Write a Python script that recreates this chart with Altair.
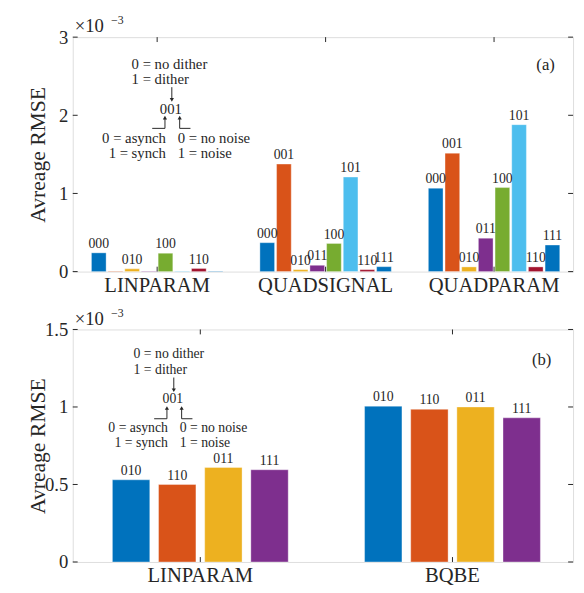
import altair as alt
import pandas as pd

FONT = "Liberation Serif"
INK = "#262626"

# ---------------- data ----------------
groups_a = ["LINPARAM", "QUADSIGNAL", "QUADPARAM"]
codes_a = ["000", "001", "010", "011", "100", "101", "110", "111"]
lin_a = [0.24, 0.006, 0.035, 0.006, 0.235, 0.006, 0.04, 0.006]
quadsig_a = [0.37, 1.376, 0.025, 0.08, 0.36, 1.21, 0.025, 0.063]
quadpar_a = [1.067, 1.515, 0.06, 0.427, 1.075, 1.88, 0.06, 0.34]
labeled_lin_a = [True, False, True, False, True, False, True, False]
colors_a = ["#0072BD", "#D95319", "#EDB120", "#7E2F8E", "#77AC30", "#4DBEEE", "#A2142F", "#0072BD"]
yticks_a = [0, 1, 2, 3]

groups_b = ["LINPARAM", "BQBE"]
codes_b = ["010", "110", "011", "111"]
lin_b = [0.53, 0.50, 0.61, 0.595]
bqbe_b = [1.005, 0.985, 1.0, 0.93]
colors_b = ["#0072BD", "#D95319", "#EDB120", "#7E2F8E"]
yticks_b = [0, 0.5, 1, 1.5]

W, HA, HB = 510, 239, 237

rows_a = []
for g, vals in zip(groups_a, [lin_a, quadsig_a, quadpar_a]):
    for i, (c, v) in enumerate(zip(codes_a, vals)):
        show = labeled_lin_a[i] if g == "LINPARAM" else True
        rows_a.append({"grp": g, "code": c, "val": v, "lab": c if show else ""})
df_a = pd.DataFrame(rows_a)

rows_b = []
for g, vals in zip(groups_b, [lin_b, bqbe_b]):
    for c, v in zip(codes_b, vals):
        rows_b.append({"grpb": g, "codeb": c, "valb": v, "lab": c})
df_b = pd.DataFrame(rows_b)

one = pd.DataFrame({"k": [0]})


def txt(s, x, y, size, align="left", baseline="middle"):
    return alt.Chart(one).mark_text(text=s, fontSize=size, align=align, baseline=baseline,
                                    font=FONT, color=INK).encode(x=alt.value(x), y=alt.value(y))


def seg(x1, y1, x2, y2):
    return alt.Chart(one).mark_rule(color=INK, strokeWidth=1).encode(
        x=alt.value(x1), x2=alt.value(x2), y=alt.value(y1), y2=alt.value(y2))


def head(x, y, shape):
    return alt.Chart(one).mark_point(shape=shape, filled=True, size=18, color=INK, opacity=1).encode(
        x=alt.value(x), y=alt.value(y))


def annotation(dx, dy, size):
    # legend-like explanation of the three-digit code
    return [
        txt("0 = no dither", 60 + dx, 27 + dy, size),
        txt("1 = dither", 60 + dx, 43 + dy, size),
        seg(101 + dx, 51 + dy, 101 + dx, 63 + dy),
        head(101 + dx, 64 + dy, "triangle-down"),
        txt("001", 100 + dx, 73 + dy, size, align="center"),
        seg(81 + dx, 93 + dy, 94 + dx, 93 + dy),
        seg(94 + dx, 93 + dy, 94 + dx, 83 + dy),
        head(94 + dx, 82 + dy, "triangle-up"),
        seg(109 + dx, 93 + dy, 120 + dx, 93 + dy),
        seg(109 + dx, 93 + dy, 109 + dx, 83 + dy),
        head(109 + dx, 82 + dy, "triangle-up"),
        txt("0 = asynch", 95 + dx, 103 + dy, size, align="right"),
        txt("1 = synch", 95 + dx, 118 + dy, size, align="right"),
        txt("0 = no noise", 107 + dx, 103 + dy, size),
        txt("1 = noise", 107 + dx, 118 + dy, size),
    ]


def panel(df, gfield, cfield, vfield, groups, codes, colors, yticks, ymax, h,
          xpi, xpo, xal, opi, opo, tag, tagx, tagy, ann):
    yscale = alt.Scale(domain=[0, ymax], nice=False, zero=True)
    xscale = alt.Scale(paddingInner=xpi, paddingOuter=xpo, align=xal)
    xaxis = alt.Axis(title=None, labelAngle=0, tickSize=0, domain=False, labelFontSize=21,
                     labelPadding=3, labelColor=INK, labelFont=FONT)
    yaxis = alt.Axis(values=yticks, format="~g", tickSize=0, domain=False, grid=False, labelFontSize=19,
                     labelPadding=5, labelColor=INK, labelFont=FONT, title="Avreage RMSE",
                     titleFontSize=22, titleFontWeight="normal", titleColor=INK, titleFont=FONT,
                     titleX=-24, titleY=h / 2)
    X = alt.X(f"{gfield}:N", sort=groups, scale=xscale, axis=xaxis)
    XO = alt.XOffset(f"{cfield}:N", sort=codes,
                     scale=alt.Scale(domain=codes, paddingInner=opi, paddingOuter=opo))
    bars = alt.Chart(df).mark_bar(stroke="white", strokeWidth=0.6, strokeOpacity=0.6).encode(
        x=X, xOffset=XO,
        y=alt.Y(f"{vfield}:Q", scale=yscale, axis=yaxis),
        color=alt.Color(f"{cfield}:N", scale=alt.Scale(domain=codes, range=colors), legend=None),
    )
    labels = alt.Chart(df).mark_text(baseline="bottom", dy=-2, fontSize=14, font=FONT, color=INK).encode(
        x=X, xOffset=XO, y=alt.Y(f"{vfield}:Q", scale=yscale, axis=yaxis), text="lab:N")
    tdf = pd.DataFrame({vfield: yticks})
    lt = alt.Chart(tdf).mark_rule(color=INK).encode(
        y=alt.Y(f"{vfield}:Q", scale=yscale, axis=yaxis), x=alt.value(0), x2=alt.value(5))
    rt = alt.Chart(tdf).mark_rule(color=INK).encode(
        y=alt.Y(f"{vfield}:Q", scale=yscale, axis=yaxis), x=alt.value(W - 5), x2=alt.value(W))
    gdf = pd.DataFrame({gfield: groups})
    tt = alt.Chart(gdf).mark_rule(color=INK).encode(x=X, y=alt.value(0), y2=alt.value(5))
    bt = alt.Chart(gdf).mark_rule(color=INK).encode(x=X, y=alt.value(h - 5), y2=alt.value(h))
    extra = [
        txt("×10", 2, -11, 19),
        txt("−3", 39, -17, 12),
        txt(tag, tagx, tagy, 17, align="center"),
    ]
    return alt.layer(bars, labels, lt, rt, tt, bt, *ann, *extra).properties(width=W, height=h)


pa = panel(df_a, "grp", "code", "val", groups_a, codes_a, colors_a, yticks_a, 3, HA,
           0.208, 0.089, 0.59, 0.12, 0.06, "(a)", 482, 29, annotation(0, 0, 15))
pb = panel(df_b, "grpb", "codeb", "valb", groups_b, codes_b, colors_b, yticks_b, 1.5, HB,
           0.268, 0.126, 0.555, 0.19, 0.095, "(b)", 478, 31, annotation(2, -2, 14))

chart = alt.vconcat(pa, pb, spacing=59, bounds="flush").resolve_scale(
    color="independent", x="independent", y="independent", xOffset="independent"
).properties(padding={"left": 18, "top": 0, "right": 2, "bottom": 5}).configure_view(
    stroke=INK, strokeWidth=1
).configure(font=FONT)

chart.save("out.html", embed_options={"renderer": "svg", "actions": False})
